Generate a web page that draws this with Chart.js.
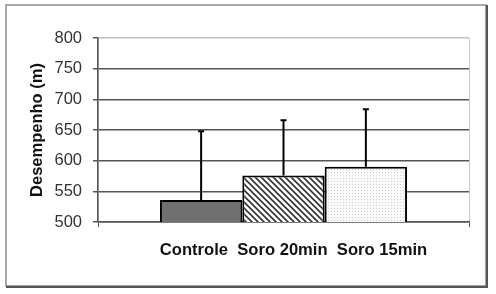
<!DOCTYPE html>
<html lang="pt">
<head>
    <meta charset="UTF-8">
    <title>Desempenho</title>
    <script src="https://cdn.jsdelivr.net/npm/chart.js"></script>
    <style>
        body { margin: 0; background: #fff; }
        #wrap { width: 496px; height: 294px; }
    </style>
</head>
<body>
    <div id="wrap"><canvas id="chart" width="496" height="294"></canvas></div>
    <script>
        // dados
        const categories = ['Controle', 'Soro 20min', 'Soro 15min'];
        const means = [536, 576, 590];
        const sdUp = [112, 90, 94];
        const yMin = 500, yMax = 800, yStep = 50;

        function makePattern(kind) {
            const c = document.createElement('canvas');
            const g = c.getContext('2d');
            if (kind === 'hatch') {
                c.width = 6; c.height = 6;
                g.fillStyle = '#fff';
                g.fillRect(0, 0, 6, 6);
                g.strokeStyle = '#333';
                g.lineWidth = 1.6;
                g.beginPath();
                g.moveTo(-1, -1); g.lineTo(7, 7);
                g.moveTo(-1, 5); g.lineTo(1, 7);
                g.moveTo(5, -1); g.lineTo(7, 1);
                g.stroke();
            } else {
                c.width = 3; c.height = 3;
                g.fillStyle = '#fafafa';
                g.fillRect(0, 0, 3, 3);
                g.fillStyle = '#cfcfcf';
                g.fillRect(1, 1, 1, 1);
            }
            return g.createPattern(c, 'repeat');
        }

        const fills = ['#707070', makePattern('hatch'), makePattern('dots')];

        const frame = {
            id: 'frame',
            beforeDraw(chart) {
                const ctx = chart.ctx;
                ctx.save();
                ctx.fillStyle = '#fff';
                ctx.fillRect(0, 0, chart.width, chart.height);
                ctx.strokeStyle = '#8a8a8a';
                ctx.lineWidth = 1.5;
                ctx.strokeRect(6, 5, 480, 281);
                ctx.strokeStyle = '#555';
                ctx.lineWidth = 2;
                ctx.beginPath();
                ctx.moveTo(487, 5); ctx.lineTo(487, 287); ctx.lineTo(6, 287);
                ctx.stroke();
                ctx.restore();
            }
        };

        const errorBars = {
            id: 'errorBars',
            afterDatasetsDraw(chart) {
                const ctx = chart.ctx;
                const y = chart.scales.y;
                ctx.save();
                ctx.strokeStyle = '#000';
                ctx.lineWidth = 2;
                chart.data.datasets.forEach((ds, i) => {
                    const bar = chart.getDatasetMeta(i).data[0];
                    const top = y.getPixelForValue(means[i] + sdUp[i]);
                    ctx.beginPath();
                    ctx.moveTo(bar.x, bar.y);
                    ctx.lineTo(bar.x, top);
                    ctx.moveTo(bar.x - 3, top);
                    ctx.lineTo(bar.x + 3, top);
                    ctx.stroke();
                });
                ctx.restore();
            }
        };

        const ctx = document.getElementById('chart').getContext('2d');
        new Chart(ctx, {
            type: 'bar',
            data: {
                labels: [categories.join('  ')],
                datasets: categories.map((name, i) => ({
                    label: name,
                    data: [means[i]],
                    backgroundColor: fills[i],
                    borderColor: '#000',
                    borderWidth: 2,
                    borderSkipped: false,
                    categoryPercentage: 0.666,
                    barPercentage: 1.0
                }))
            },
            options: {
                responsive: false,
                animation: false,
                layout: { padding: { left: 0, top: 38, right: 27, bottom: 30 } },
                plugins: { legend: { display: false }, tooltip: { enabled: false } },
                scales: {
                    x: {
                        afterFit(s) { s.height = 42; },
                        grid: {
                            color: '#c8c8c8',
                            tickColor: '#555',
                            tickLength: 5,
                            lineWidth: 1
                        },
                        border: { color: '#555', width: 1.5 },
                        ticks: {
                            color: '#111',
                            padding: 13,
                            labelOffset: 10,
                            font: { family: 'Arial, "Liberation Sans"', size: 16.6, weight: 'bold' }
                        }
                    },
                    y: {
                        min: yMin,
                        max: yMax,
                        afterFit(s) { s.width = 98; },
                        grid: {
                            color: c => c.tick.value === yMax ? '#c0c0c0' : '#555',
                            tickColor: '#555',
                            lineWidth: 1.5,
                            tickLength: 5
                        },
                        border: { color: '#555', width: 1.5 },
                        ticks: {
                            stepSize: yStep,
                            color: '#333',
                            padding: 11,
                            font: { family: 'Arial, "Liberation Sans"', size: 16.5 }
                        },
                        title: {
                            display: true,
                            text: 'Desempenho (m)',
                            color: '#111',
                            padding: { top: 28, bottom: 0 },
                            font: { family: 'Arial, "Liberation Sans"', size: 16.5, weight: 'bold' }
                        }
                    }
                }
            },
            plugins: [frame, errorBars]
        });
    </script>
</body>
</html>
